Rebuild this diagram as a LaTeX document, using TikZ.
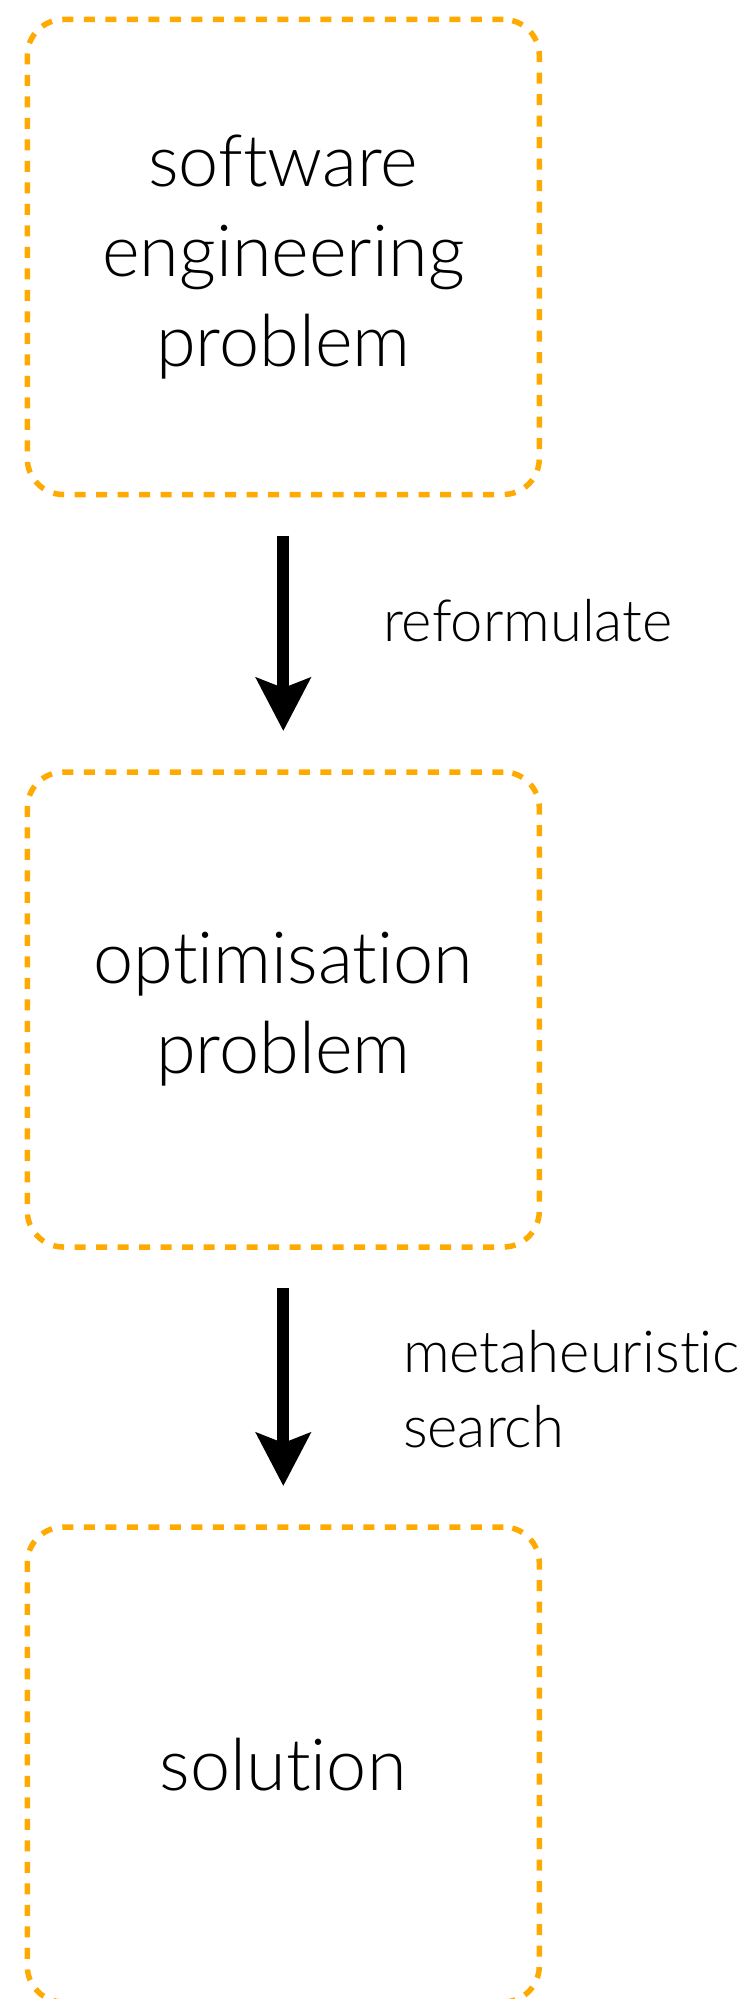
\documentclass[tikz,border=0pt]{standalone}
\usepackage{fontspec}
\usetikzlibrary{arrows.meta}
\newfontfamily\diagfont{Lato Light}[Ligatures=NoCommon]
\definecolor{boxorange}{RGB}{255,170,0}
\begin{document}
\begin{tikzpicture}[x=1pt,y=1pt,
  stage/.style={draw=boxorange, line width=5.5pt, dash pattern=on 11pt off 10.5pt,
    rounded corners=36pt, minimum width=512pt, minimum height=475pt,
    inner sep=0pt, outer sep=0pt, align=center,
    font=\diagfont\fontsize{72}{90}\selectfont},
  flow/.style={line width=12.3pt, -{Stealth[length=53pt,width=54pt,inset=10pt]},
    shorten <=41pt, shorten >=41pt},
  lbl/.style={inner sep=0pt, outer sep=0pt, align=left,
    font=\diagfont\fontsize{58}{75}\selectfont}]
\useasboundingbox (0,0) rectangle (746,-1999);
% the three stages
\node[stage] (prob) at (283.3,-257) {software\\engineering\\problem};
\node[stage] (opt)  at (283.3,-1009.5) {optimisation\\problem};
\node[stage] (sol)  at (283.3,-1764.5) {solution};
% transitions between stages
\draw[flow] (prob.south) -- (opt.north);
\draw[flow] (opt.south) -- (sol.north);
% transition labels (base anchor sits on the last line)
\node[lbl, anchor=base west] (reform) at (383,-641.7) {reformulate};
\node[lbl, anchor=base west] (meta) at (403,-1447) {metaheuristic\\search};
\end{tikzpicture}
\end{document}
